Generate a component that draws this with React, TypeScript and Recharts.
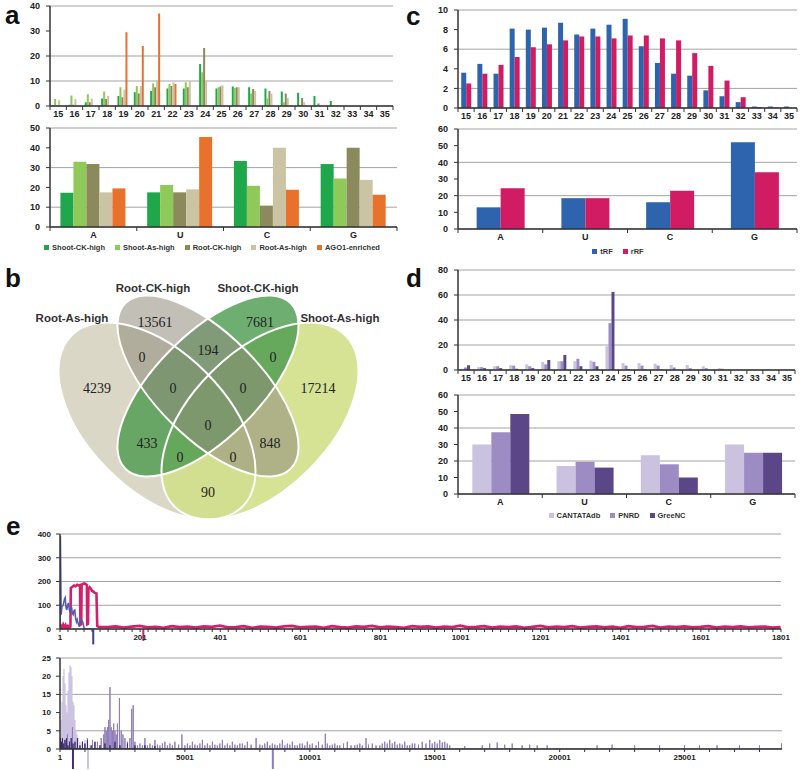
import React from "react";
import {
  BarChart,
  Bar,
  LineChart,
  Line,
  XAxis,
  YAxis,
  CartesianGrid,
  Legend,
  ReferenceLine,
  Surface,
} from "recharts";

const FONT = '"Liberation Sans", Arial, sans-serif';
const SERIF = '"Liberation Serif", "Times New Roman", serif';

// ---- panel a: read lengths (nt) and base composition
const lengthLabels = ["15", "16", "17", "18", "19", "20", "21", "22", "23", "24", "25", "26", "27", "28", "29", "30", "31", "32", "33", "34", "35"];
const shootCkLen = [0.3, 0.5, 1.5, 3, 4, 5.5, 6, 7, 7, 16.8, 7, 7.8, 7.5, 7, 5.8, 5.3, 4, 2, 0, 0, 0];
const shootAsLen = [2.8, 4.2, 4.7, 5.8, 7.5, 8, 9, 8.8, 9.5, 13.5, 7.5, 7.2, 5, 3, 1.5, 0.5, 0.2, 0, 0, 0, 0];
const rootCkLen = [0.2, 0.5, 1.5, 2.8, 3.5, 5, 7.5, 8, 7.5, 23.2, 7.8, 7.5, 6.8, 6, 5, 3.2, 1, 0.2, 0, 0, 0];
const rootAsLen = [2.3, 2.8, 3, 4, 6.5, 8, 10, 9.5, 10, 10, 8.3, 7.5, 6, 5, 3.2, 1.5, 0.3, 0, 0, 0, 0];
const ago1Len = [0, 0, 0, 0, 29.5, 24, 37, 8.8, 0, 0, 0, 0, 0, 0, 0, 0, 0, 0, 0, 0, 0];

const baseLabels = ["A", "U", "C", "G"];
const shootCkBase = [17.3, 17.5, 33.3, 31.8];
const shootAsBase = [33, 21.2, 20.8, 24.5];
const rootCkBase = [31.8, 17.5, 10.8, 40];
const rootAsBase = [17.5, 19, 40, 23.8];
const ago1Base = [19.5, 45.5, 18.8, 16.3];

const aNames = ["Shoot-CK-high", "Shoot-As-high", "Root-CK-high", "Root-As-high", "AGO1-enriched"];
const aColors = ["#1fa84b", "#8fc95a", "#8b8a5c", "#cac4a4", "#e8712b"];

// ---- panel c: tRF / rRF
const trfLen = [3.6, 4.5, 3.5, 8.1, 8.0, 8.2, 8.7, 7.5, 8.1, 8.5, 9.1, 6.3, 4.6, 3.5, 3.3, 1.8, 1.2, 0.6, 0.15, 0.15, 0.15];
const rrfLen = [2.5, 3.5, 4.4, 5.2, 6.2, 6.5, 6.9, 7.3, 7.3, 7.1, 7.4, 7.4, 7.1, 6.9, 5.6, 4.3, 2.8, 1.1, 0.1, 0.05, 0];
const trfBase = [13, 18.5, 16, 52];
const rrfBase = [24.5, 18.5, 23, 34];
const cNames = ["tRF", "rRF"];
const cColors = ["#2e63ad", "#d11b62"];

// ---- panel d: databases
const cantataLen = [1, 2.3, 3, 3.8, 4.5, 6.5, 7, 7, 7.5, 19, 5.5, 5.5, 5, 4, 4, 3, 1.5, 0.3, 0.2, 0.1, 0.1];
const pnrdLen = [2, 2.3, 3, 3.5, 3, 4.5, 7, 9, 6.5, 37.5, 3.5, 3.5, 3.5, 2, 1.5, 1.5, 1, 0, 0, 0, 0];
const greencLen = [3.8, 1.5, 1.5, 1, 1.5, 8, 12, 3, 3, 62.5, 0.5, 0.3, 0.2, 0.1, 0, 0, 0, 0, 0, 0, 0];
const cantataBase = [30, 17, 23.5, 30];
const pnrdBase = [37.5, 19.5, 18, 25];
const greencBase = [48.5, 16, 10, 25];
const dNames = ["CANTATAdb", "PNRD", "GreeNC"];
const dColors = ["#cac2de", "#9c8cc3", "#5b4787"];

// ---- panel b: Venn
const vennSets = ["Root-As-high", "Root-CK-high", "Shoot-CK-high", "Shoot-As-high"];
const vennColors = ["#dad7c6", "#8f8b7b", "#4b9a4e", "#d2e08a"];
const vennCounts = ["13561", "7681", "4239", "17214", "0", "194", "0", "0", "0", "0", "433", "848", "0", "0", "90"];

// ---- panel e: per-sequence abundance
const rrfHead = [
  [1, 0], [3, 14], [6, 4], [9, 18], [12, 6], [15, 16], [18, 3], [21, 12], [24, 5], [27, 10],
  [28, 172], [32, 178], [36, 183], [40, 180], [44, 186], [48, 183], [51, 185], [52, 18], [54, 20],
  [55, 186], [58, 190], [62, 192], [66, 188], [68, 185], [69, 20], [71, 22], [72, 170], [75, 176],
  [78, 170], [81, 160], [84, 158], [88, 152], [92, 150], [94, 12], [100, 8],
];
// rRF tail, one reading every 20 sequences from 120 on
const rrfTail = [
  8, 11, 6, 10, 13, 7, 9, 5, 12, 8, 10, 6, 11, 9, 14, 7, 8, 12, 5, 10, 9, 6, 11, 13, 7, 9, 10, 5, 12, 8,
  6, 11, 9, 13, 7, 10, 8, 5, 12, 9, 11, 6, 10, 8, 14, 7, 9, 12, 6, 10, 8, 11, 5, 9, 13, 7, 10, 8, 12, 6,
  9, 11, 7, 10, 5, 12, 8, 9, 13, 6, 10, 8, 11, 7, 9, 12, 6, 10, 8, 11, 7, 9, 10, 6, 8,
];
const trfLine = [
  [1, 0], [2, 392], [4, 60], [6, 95], [9, 100], [12, 125], [14, 132], [16, 90], [18, 80], [20, 100],
  [22, 110], [24, 85], [26, 70], [28, 88], [30, 90], [32, 65], [34, 60], [36, 78], [38, 80], [40, 45],
  [42, 30], [44, 40], [46, 25], [49, 10], [51, 30], [53, 40], [56, 35], [58, 28], [61, 5], [64, 0], [80, 0],
];
const eTopLabels = [1, 201, 401, 601, 801, 1001, 1201, 1401, 1601, 1801];

const cantataSpikes = [
  [40, 8], [80, 13], [120, 20], [160, 22], [200, 18], [240, 12], [280, 10], [320, 16], [360, 21],
  [400, 23], [440, 22.5], [480, 20], [520, 13], [560, 12], [600, 8], [640, 5], [680, 4], [720, 3],
  [800, 2], [900, 1.5], [1000, 2.5], [1100, 3], [1200, 1], [1400, 1.5], [1600, 1], [1800, 2], [2000, 1],
];
const pnrdSpikes = [
  [100, 3], [300, 4], [500, 6], [700, 3], [900, 2], [1100, 3], [1300, 2.5], [1500, 2], [1650, 3],
  [1750, 4], [1800, 6], [1850, 5], [1900, 6], [1950, 8], [2000, 17], [2050, 6], [2100, 5], [2150, 7],
  [2200, 5], [2250, 4], [2300, 7], [2380, 14], [2450, 5], [2520, 4], [2600, 3], [2700, 2], [2800, 3],
  [2870, 11], [2930, 12], [3000, 2], [3100, 1], [3200, 1.5], [3300, 1], [3400, 3], [3500, 1], [3600, 1.5],
  [3700, 1], [3800, 2.5], [3900, 1.2], [4000, 1], [4100, 1.5], [4200, 2], [4300, 1], [4400, 1.5],
  [4500, 1], [4600, 2], [4750, 1.2], [4880, 4], [5000, 1], [5100, 1.5], [5200, 1], [5300, 2], [5400, 1.2],
  [5500, 1], [5600, 1.5], [5700, 2.5], [5800, 1], [5900, 1.5], [6000, 1], [6100, 2], [6200, 1.2],
  [6300, 1], [6400, 1.5], [6500, 2.5], [6600, 1], [6700, 1.5], [6800, 1], [6900, 2], [7000, 1.2],
  [7100, 1], [7200, 1.5], [7300, 1.5], [7400, 1], [7500, 2], [7650, 1.2], [7850, 3], [8000, 1.2],
  [8100, 1], [8200, 1.5], [8300, 2], [8400, 1], [8500, 1.5], [8600, 1.2], [8700, 1], [8800, 1.5],
  [8900, 2.5], [9000, 1], [9100, 1.5], [9200, 1.2], [9300, 2], [9400, 1], [9500, 1], [9600, 1.5],
  [9700, 1.5], [9800, 1], [9900, 2], [10000, 1.2], [10100, 1.5], [10250, 1], [10350, 2], [10500, 1.2],
  [10620, 4.2], [10700, 1.5], [10800, 1], [10900, 1.2], [11000, 1.5], [11100, 1], [11200, 1], [11350, 1.5],
  [11500, 2], [11650, 1], [11800, 1], [11900, 1.2], [12000, 1.5], [12100, 1], [12250, 3], [12350, 1.2],
  [12500, 1.5], [12650, 1], [12800, 1], [12900, 1.5], [13000, 2], [13100, 1.5], [13200, 2.5], [13300, 1.5],
  [13400, 2], [13500, 1.2], [13600, 1.5], [13700, 1.2], [13800, 2], [13900, 1], [14000, 1], [14100, 1.5],
  [14200, 1.5], [14350, 1.2], [14500, 2], [14650, 1.5], [14800, 2.5], [14900, 1.5], [15000, 2],
  [15100, 1.5], [15200, 2.5], [15300, 1.8], [15400, 2], [15500, 1.5], [15600, 1], [16200, 0.8], [16900, 1],
  [17200, 1.5], [17500, 1.8], [17800, 1.2], [18100, 1.5], [18500, 1], [18800, 1.2], [19100, 1],
  [19500, 1], [21500, 1], [22100, 1.2], [23000, 1], [24000, 1], [25000, 1], [25600, 1], [26300, 1],
  [27200, 1], [28000, 1], [28880, 1.5],
];
const greencSpikes = [
  [20, 3], [60, 2], [100, 3], [150, 1.5], [200, 2.5], [260, 3], [320, 1], [380, 2], [450, 3], [520, 1.5],
  [600, 2], [700, 3], [800, 1], [900, 2], [1000, 1.5], [1100, 2.5], [1250, 1], [1400, 2], [1600, 1],
  [1800, 1.5], [2000, 1], [2200, 2], [2400, 1], [2700, 1.5], [3000, 1], [3400, 1], [3800, 0.8],
];
const eBottomLabels = [1, 5001, 10001, 15001, 20001, 25001];

// ---- tables
const aLenData = lengthLabels.map((k, i) => ({ k, s0: shootCkLen[i], s1: shootAsLen[i], s2: rootCkLen[i], s3: rootAsLen[i], s4: ago1Len[i] }));
const aBaseData = baseLabels.map((k, i) => ({ k, s0: shootCkBase[i], s1: shootAsBase[i], s2: rootCkBase[i], s3: rootAsBase[i], s4: ago1Base[i] }));
const cLenData = lengthLabels.map((k, i) => ({ k, s0: trfLen[i], s1: rrfLen[i] }));
const cBaseData = baseLabels.map((k, i) => ({ k, s0: trfBase[i], s1: rrfBase[i] }));
const dLenData = lengthLabels.map((k, i) => ({ k, s0: cantataLen[i], s1: pnrdLen[i], s2: greencLen[i] }));
const dBaseData = baseLabels.map((k, i) => ({ k, s0: cantataBase[i], s1: pnrdBase[i], s2: greencBase[i] }));

const toPts = (arr: number[][]) => arr.map(([x, y]) => ({ x, y }));
const rrfLine = toPts(rrfHead).concat(rrfTail.map((y, i) => ({ x: 120 + i * 20, y })));
const trfPts = toPts(trfLine);
// each spike drawn as a needle
const needles = (arr: number[][]) => {
  const out = [{ x: 1, y: 0 }];
  arr.forEach(([x, y]) => out.push({ x, y: 0 }, { x, y }, { x, y: 0 }));
  return out;
};

const range = (from: number, to: number, step: number) => {
  const r: number[] = [];
  for (let v = from; v <= to; v += step) r.push(v);
  return r;
};

const tickStyle = { fontSize: 9, fontWeight: 700, fill: "#222", fontFamily: FONT };

function CatTick(props: any) {
  const { x, y, payload, index, half, count } = props;
  return (
    <g>
      <line x1={x - half} y1={y} x2={x - half} y2={y + 4} stroke="#333" />
      {index === count - 1 && <line x1={x + half} y1={y} x2={x + half} y2={y + 4} stroke="#333" />}
      <text x={x} y={y + 8} dy="0.35em" textAnchor="middle" {...tickStyle}>
        {payload.value}
      </text>
    </g>
  );
}

function legendContent(names: string[], colors: string[]) {
  return () => (
    <div style={{ display: "flex", justifyContent: "center", gap: 10, fontFamily: FONT, fontSize: 7.5, fontWeight: 700, color: "#333" }}>
      {names.map((n, i) => (
        <span key={n} style={{ display: "flex", alignItems: "center" }}>
          <span style={{ width: 5, height: 5, background: colors[i], marginRight: 3, display: "inline-block" }} />
          {n}
        </span>
      ))}
    </div>
  );
}

type BarPanelProps = {
  left: number;
  top: number;
  height: number;
  margin: { top: number; right: number; bottom: number; left: number };
  data: any[];
  colors: string[];
  names: string[];
  ymax: number;
  ystep: number;
  xHeight: number;
  gap: string;
  legendTop?: number;
  legendCenter?: number;
};

function BarPanel(p: BarPanelProps) {
  const plotW = 400 - p.margin.left - p.margin.right - 40;
  const half = plotW / p.data.length / 2;
  return (
    <div style={{ position: "absolute", left: p.left, top: p.top }}>
      <BarChart width={400} height={p.height} data={p.data} margin={p.margin} barGap={0} barCategoryGap={p.gap}>
        <CartesianGrid vertical={false} stroke="#a3a3a3" />
        <XAxis
          dataKey="k"
          height={p.xHeight}
          interval={0}
          tickSize={0}
          tickMargin={0}
          axisLine={{ stroke: "#333", strokeWidth: 1.5 }}
          tick={(t: any) => <CatTick {...t} half={half} count={p.data.length} />}
        />
        <YAxis
          width={40}
          domain={[0, p.ymax]}
          ticks={range(0, p.ymax, p.ystep)}
          tickSize={4}
          tickMargin={6}
          axisLine={{ stroke: "#333", strokeWidth: 1.5 }}
          tickLine={{ stroke: "#333" }}
          tick={tickStyle}
        />
        {p.colors.map((c, i) => (
          <Bar key={i} dataKey={`s${i}`} name={p.names[i]} fill={c} isAnimationActive={false} />
        ))}
        {p.legendTop !== undefined && (
          <Legend
            layout="horizontal"
            verticalAlign="middle"
            align="center"
            wrapperStyle={{ top: p.legendTop, left: (p.legendCenter ?? 200) - 200, width: 400 }}
            content={legendContent(p.names, p.colors)}
          />
        )}
      </BarChart>
    </div>
  );
}

function Venn() {
  const oy = 270;
  const ellipses = [
    { cx: 157, cy: 421, rx: 121, ry: 69, rot: 45 },
    { cx: 208, cy: 386, rx: 117, ry: 52, rot: 45 },
    { cx: 208, cy: 386, rx: 117, ry: 52, rot: -45 },
    { cx: 260, cy: 421, rx: 121, ry: 69, rot: -45 },
  ];
  const fillOrder = [0, 3, 2, 1];
  const opac = [1, 0.55, 0.8, 0.9];
  const labelPos = [
    [72, 318], [153, 288], [258, 288], [340, 318],
  ];
  const countPos = [
    [155, 322], [260, 322], [97, 388], [318, 388], [142, 357], [208, 350], [273, 357], [173, 388],
    [243, 388], [208, 425], [147, 443], [270, 443], [180, 457], [233, 457], [208, 492],
  ];
  return (
    <div style={{ position: "absolute", left: 0, top: oy }}>
      <Surface width={400} height={260}>
        {fillOrder.map((i) => {
          const e = ellipses[i];
          return (
            <ellipse key={`f${i}`} cx={e.cx} cy={e.cy - oy} rx={e.rx} ry={e.ry}
              transform={`rotate(${e.rot} ${e.cx} ${e.cy - oy})`} fill={vennColors[i]} fillOpacity={opac[i]} />
          );
        })}
        {ellipses.map((e, i) => (
          <ellipse key={`s${i}`} cx={e.cx} cy={e.cy - oy} rx={e.rx} ry={e.ry}
            transform={`rotate(${e.rot} ${e.cx} ${e.cy - oy})`} fill="none" stroke="#fff" strokeWidth={2} />
        ))}
        {vennSets.map((s, i) => (
          <text key={s} x={labelPos[i][0]} y={labelPos[i][1] - oy} dy="0.35em" textAnchor="middle"
            fontFamily={FONT} fontWeight={700} fontSize={11.5} fill="#333">{s}</text>
        ))}
        {vennCounts.map((c, i) => (
          <text key={i} x={countPos[i][0]} y={countPos[i][1] - oy} dy="0.35em" textAnchor="middle"
            fontFamily={SERIF} fontSize={14} fill="#222">{c}</text>
        ))}
      </Surface>
    </div>
  );
}

function LinePanel(props: { top: number; height: number; margin: any; xmax: number; labels: number[]; minor: number; ymax: number; ystep: number; children: any }) {
  const { top, height, margin, xmax, labels, minor, ymax, ystep, children } = props;
  return (
    <div style={{ position: "absolute", left: 0, top }}>
      <LineChart width={800} height={height} margin={margin}>
        <CartesianGrid vertical={false} stroke="#a3a3a3" />
        <XAxis
          type="number"
          dataKey="x"
          domain={[1, xmax]}
          allowDataOverflow
          ticks={range(1, xmax, minor)}
          interval={0}
          height={17}
          tickSize={3}
          tickMargin={2}
          axisLine={{ stroke: "#333", strokeWidth: 1.5 }}
          tickLine={{ stroke: "#333" }}
          tick={{ ...tickStyle, fontSize: 8 }}
          tickFormatter={(v: number) => (labels.includes(v) ? String(v) : "")}
        />
        <YAxis
          width={40}
          domain={[0, ymax]}
          allowDataOverflow
          ticks={range(0, ymax, ystep)}
          tickSize={4}
          tickMargin={5}
          axisLine={{ stroke: "#333", strokeWidth: 1.5 }}
          tickLine={{ stroke: "#333" }}
          tick={{ ...tickStyle, fontSize: 8 }}
        />
        {children}
      </LineChart>
    </div>
  );
}

export default function App() {
  return (
    <div style={{ position: "absolute", left: 0, top: 0, width: 800, height: 770, background: "#fff", overflow: "hidden" }}>
      <BarPanel left={0} top={0} height={130} margin={{ top: 6, right: 7, bottom: 4, left: 10 }}
        data={aLenData} colors={aColors} names={aNames} ymax={40} ystep={10} xHeight={20} gap="13%" />
      <BarPanel left={0} top={110} height={150} margin={{ top: 18, right: 3, bottom: 17, left: 10 }}
        data={aBaseData} colors={aColors} names={aNames} ymax={50} ystep={10} xHeight={16} gap="12%"
        legendTop={133} legendCenter={212} />
      <BarPanel left={400} top={0} height={130} margin={{ top: 10, right: 3, bottom: 4, left: 18 }}
        data={cLenData} colors={cColors} names={cNames} ymax={10} ystep={2} xHeight={18} gap="20%" />
      <BarPanel left={400} top={112} height={150} margin={{ top: 17, right: 3, bottom: 17, left: 18 }}
        data={cBaseData} colors={cColors} names={cNames} ymax={60} ystep={10} xHeight={16} gap="22%"
        legendTop={135} legendCenter={218} />
      <BarPanel left={400} top={262} height={130} margin={{ top: 8, right: 5, bottom: 4, left: 18 }}
        data={dLenData} colors={dColors} names={dNames} ymax={80} ystep={20} xHeight={18} gap="19%" />
      <BarPanel left={400} top={380} height={150} margin={{ top: 15, right: 5, bottom: 20, left: 18 }}
        data={dBaseData} colors={dColors} names={dNames} ymax={60} ystep={10} xHeight={16} gap="17%"
        legendTop={131} legendCenter={217} />
      <Venn />
      <LinePanel top={520} height={130} margin={{ top: 14, right: 19, bottom: 4, left: 20 }}
        xmax={1801} labels={eTopLabels} minor={20} ymax={400} ystep={100}>
        <Line data={rrfLine} dataKey="y" stroke="#d4206a" strokeWidth={2.6} dot={false} isAnimationActive={false} />
        <Line data={trfPts} dataKey="y" stroke="#5058b0" strokeWidth={1.5} dot={false} isAnimationActive={false} />
        <ReferenceLine segment={[{ x: 84, y: 0 }, { x: 84, y: -65 }]} stroke="#3d3f8f" strokeWidth={2} ifOverflow="visible" />
        <ReferenceLine segment={[{ x: 209, y: 0 }, { x: 209, y: -50 }]} stroke="#d4206a" strokeWidth={2} ifOverflow="visible" />
      </LinePanel>
      <LinePanel top={650} height={120} margin={{ top: 8, right: 18, bottom: 4, left: 20 }}
        xmax={28900} labels={eBottomLabels} minor={1000} ymax={25} ystep={5}>
        <Line data={needles(cantataSpikes)} dataKey="y" stroke="#cbc3e0" strokeWidth={1.2} dot={false} isAnimationActive={false} />
        <Line data={needles(pnrdSpikes)} dataKey="y" stroke="#8f7dbb" strokeWidth={1} dot={false} isAnimationActive={false} />
        <Line data={needles(greencSpikes)} dataKey="y" stroke="#3f2f6e" strokeWidth={1} dot={false} isAnimationActive={false} />
        <ReferenceLine segment={[{ x: 520, y: 0 }, { x: 520, y: -5.5 }]} stroke="#3f2f6e" strokeWidth={2} ifOverflow="visible" />
        <ReferenceLine segment={[{ x: 1120, y: 0 }, { x: 1120, y: -5.5 }]} stroke="#cbc3e0" strokeWidth={2} ifOverflow="visible" />
        <ReferenceLine segment={[{ x: 8520, y: 0 }, { x: 8520, y: -5.5 }]} stroke="#8f7dbb" strokeWidth={2} ifOverflow="visible" />
      </LinePanel>
      <svg width={800} height={770} style={{ position: "absolute", left: 0, top: 0, pointerEvents: "none" }}>
        {[["a", 5, 24], ["b", 5, 287], ["c", 406, 25], ["d", 406, 287], ["e", 6, 535]].map(([t, x, y]) => (
          <text key={t as string} x={x as number} y={y as number} fontFamily={FONT} fontWeight={700} fontSize={26} fill="#111">{t}</text>
        ))}
      </svg>
    </div>
  );
}
